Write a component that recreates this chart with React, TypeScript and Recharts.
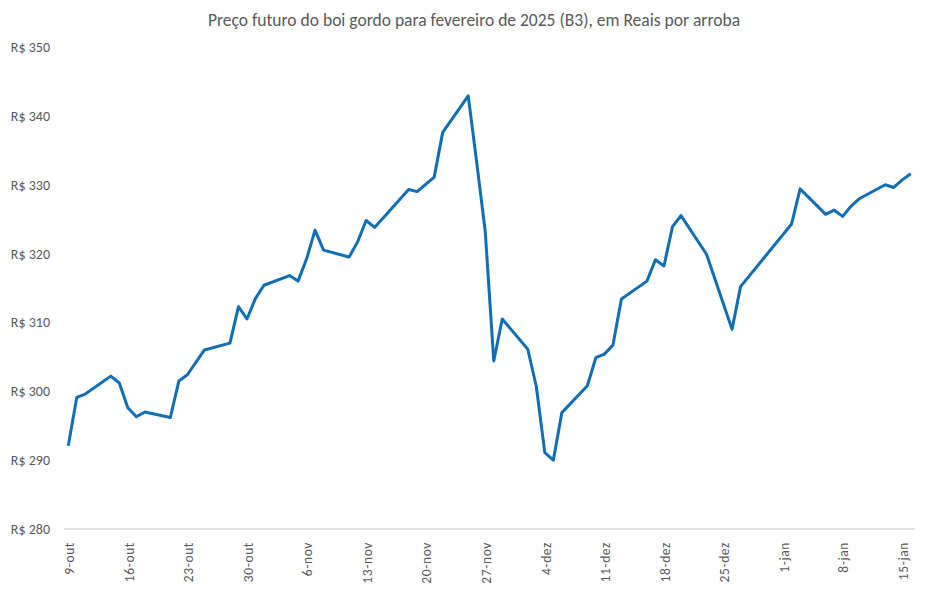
import React from "react";
import { LineChart, Line, XAxis, YAxis } from "recharts";

const title = "Preço futuro do boi gordo para fevereiro de 2025 (B3), em Reais por arroba";

const dates = [
  "2024-10-09", "2024-10-10", "2024-10-11", "2024-10-14", "2024-10-15", "2024-10-16", "2024-10-17", "2024-10-18",
  "2024-10-21", "2024-10-22", "2024-10-23", "2024-10-25", "2024-10-28", "2024-10-29", "2024-10-30", "2024-10-31",
  "2024-11-01", "2024-11-04", "2024-11-05", "2024-11-06", "2024-11-07", "2024-11-08", "2024-11-11", "2024-11-12",
  "2024-11-13", "2024-11-14", "2024-11-18", "2024-11-19", "2024-11-21", "2024-11-22", "2024-11-25", "2024-11-26",
  "2024-11-27", "2024-11-28", "2024-11-29", "2024-12-02", "2024-12-03", "2024-12-04", "2024-12-05", "2024-12-06",
  "2024-12-09", "2024-12-10", "2024-12-11", "2024-12-12", "2024-12-13", "2024-12-16", "2024-12-17", "2024-12-18",
  "2024-12-19", "2024-12-20", "2024-12-23", "2024-12-26", "2024-12-27", "2025-01-02", "2025-01-03", "2025-01-06",
  "2025-01-07", "2025-01-08", "2025-01-09", "2025-01-10", "2025-01-13", "2025-01-14", "2025-01-15", "2025-01-16",
];

const prices = [
  292.1, 299.1, 299.6, 302.2, 301.2, 297.6, 296.3, 297.0,
  296.2, 301.5, 302.4, 306.0, 307.0, 312.3, 310.5, 313.5,
  315.4, 316.8, 316.0, 319.2, 323.4, 320.5, 319.5, 321.7,
  324.8, 323.8, 329.3, 329.0, 331.1, 337.6, 342.9, 333.2,
  323.2, 304.4, 310.5, 306.1, 300.7, 291.1, 290.0, 296.9,
  300.8, 304.9, 305.4, 306.7, 313.4, 316.0, 319.1, 318.2,
  323.9, 325.5, 319.9, 309.0, 315.2, 324.3, 329.4, 325.7,
  326.3, 325.4, 326.9, 328.0, 330.0, 329.6, 330.7, 331.6,
];

const tickDates = [
  "2024-10-09", "2024-10-16", "2024-10-23", "2024-10-30", "2024-11-06", "2024-11-13", "2024-11-20", "2024-11-27",
  "2024-12-04", "2024-12-11", "2024-12-18", "2024-12-25", "2025-01-01", "2025-01-08", "2025-01-15",
];
const tickLabels = [
  "9-out", "16-out", "23-out", "30-out", "6-nov", "13-nov", "20-nov", "27-nov",
  "4-dez", "11-dez", "18-dez", "25-dez", "1-jan", "8-jan", "15-jan",
];
const yTicks = [280, 290, 300, 310, 320, 330, 340, 350];

const DAY = 86400000;
const toDay = (s: string) => {
  const [y, m, d] = s.split("-").map(Number);
  return Date.UTC(y, m - 1, d) / DAY;
};
const base = toDay(dates[0]);
const data = dates.map((d, i) => ({ day: toDay(d) - base, price: prices[i] }));
const xTicks = tickDates.map((d) => toDay(d) - base);
const labelFor: Record<number, string> = {};
xTicks.forEach((t, i) => (labelFor[t] = tickLabels[i]));
const lastDay = data[data.length - 1].day;

const FONT = "Carlito, Calibri, 'Open Sans', sans-serif";
const GRAY = "#595959";

const XTick = (props: any) => {
  const { x, y, payload } = props;
  return (
    <text
      transform={`translate(${x + 1},${y + 5}) rotate(-90)`}
      textAnchor="end"
      dy="0.35em"
      fill={GRAY}
      fontSize={13.5}
      letterSpacing={0.6}
      fontFamily={FONT}
    >
      {labelFor[payload.value]}
    </text>
  );
};

export default function App() {
  return (
    <div style={{ position: "absolute", left: 0, top: 0, width: 948, height: 589, background: "#fff" }}>
      <div
        style={{
          position: "absolute",
          top: 9,
          left: 0,
          width: 948,
          textAlign: "center",
          fontFamily: FONT,
          fontSize: 17.5,
          lineHeight: "22px",
          color: GRAY,
        }}
      >
        {title}
      </div>
      <LineChart
        width={948}
        height={589}
        data={data}
        margin={{ top: 47, right: 33, bottom: 0, left: 0 }}
      >
        <XAxis
          dataKey="day"
          type="number"
          domain={[-0.5, lastDay + 0.5]}
          ticks={xTicks}
          tick={<XTick />}
          tickLine={false}
          axisLine={{ stroke: "#d9d9d9", strokeWidth: 1.5 }}
          height={60}
          interval={0}
          allowDataOverflow
        />
        <YAxis
          type="number"
          domain={[280, 350]}
          ticks={yTicks}
          width={64}
          axisLine={false}
          tickLine={false}
          tickSize={6}
          tickMargin={8}
          tickFormatter={(v: number) => `R$ ${v}`}
          tick={{ fill: GRAY, fontSize: 14, fontFamily: FONT }}
          interval={0}
        />
        <Line
          type="linear"
          dataKey="price"
          stroke="#0E6EB8"
          strokeWidth={3}
          dot={false}
          isAnimationActive={false}
          strokeLinejoin="round"
        />
      </LineChart>
    </div>
  );
}
